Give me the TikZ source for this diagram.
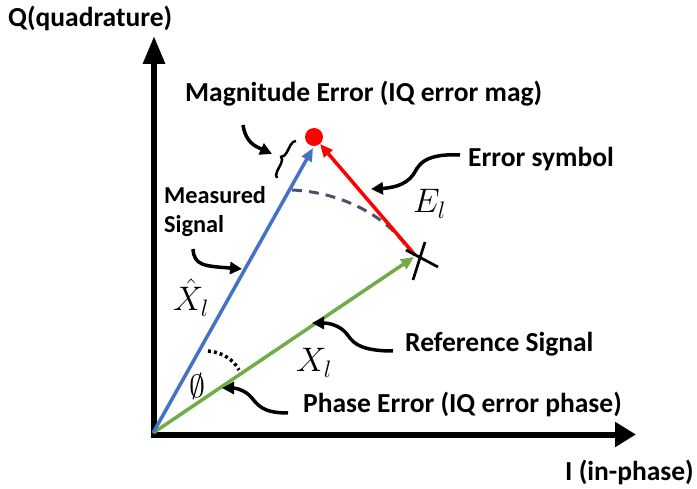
\RequirePackage{fix-cm}
\documentclass[tikz,border=0pt]{standalone}
\usepackage{fontspec}
\setmainfont{Carlito}
\usetikzlibrary{arrows.meta,decorations.pathreplacing}
\definecolor{qblue}{HTML}{4472C4}
\definecolor{qgreen}{HTML}{70AD47}
\definecolor{qslate}{HTML}{44546A}
\begin{document}
\begin{tikzpicture}[x=1pt,y=-1pt,
  lbl/.style={font=\fontsize{27.5}{31}\selectfont\bfseries, anchor=base west, inner sep=0pt},
  slbl/.style={font=\fontsize{24.3}{28}\selectfont\bfseries, anchor=base west, inner sep=0pt},
  mth/.style={font=\fontsize{34}{40}\selectfont, anchor=base west, inner sep=0pt},
  pointer/.style={line width=3.5pt, -{Triangle[length=12pt,width=12pt]}},
  vec/.style={line width=3.5pt, -{Triangle[length=13pt,width=11pt]}},
  axis/.style={line width=6pt, line join=miter}]
\useasboundingbox (0,0) rectangle (697,489);
% axes
\coordinate (corner) at (154,434.5);
\coordinate (Qtip) at (154,36);
\coordinate (Itip) at (636,434.5);
\draw[axis, {Triangle[length=28pt,width=21pt]}-{Triangle[length=21pt,width=24pt]}] (Qtip) -- (corner) -- (Itip);
% labels
\node[lbl] (qlab) at (8,27) {Q(quadrature)};
\node[lbl] (maglab) at (185,102) {Magnitude Error (IQ error mag)};
\node[lbl] (errlab) at (468,167) {Error symbol};
\node[slbl] (measlab) at (164,204) {Measured};
\node[slbl] (siglab) at (164,233) {Signal};
\node[lbl] (reflab) at (405,352) {Reference Signal};
\node[lbl] (phlab) at (303,413) {Phase Error (IQ error phase)};
\node[lbl] (ilab) at (565,480) {I (in-phase)};
% math labels
\node[mth] (elab) at (413,213) {$E_l$};
\node[mth] (xhlab) at (173,311) {$\hat{X}_l$};
\node[mth] (xlab) at (296,372) {$X_l$};
\node[font=\fontsize{32}{36}\selectfont, inner sep=0pt] (philab) at (197,386) {$\emptyset$};
% vectors
\coordinate (O) at (153,433);
\coordinate (M) at (313,148);
\coordinate (R) at (414,257);
\coordinate (Rs) at (415,255);
\node[circle, fill=red, minimum size=18pt, inner sep=0pt] (dot) at (314,137) {};
\draw[qslate, line width=3pt, dash pattern=on 10pt off 7pt] (292,190) .. controls (340,192) and (385,215) .. (407,247);
\draw[vec, qgreen] (O) -- (R);
\draw[vec, qblue] (O) -- (M);
\draw[vec, red] (Rs) -- (dot);
% cross
\coordinate (c1a) at (425,242);
\coordinate (c1b) at (413,280);
\coordinate (c2a) at (406,250);
\coordinate (c2b) at (438,267);
\draw[line width=2.7pt] (c1a) -- (c1b);
\draw[line width=2.7pt] (c2a) -- (c2b);
% phase arc
\coordinate (pa1) at (208,351);
\coordinate (pa2) at (239,370);
\draw[line width=3.5pt, dash pattern=on 3pt off 3pt] (pa1) .. controls (222,352) and (234,360) .. (pa2);
% brace
\coordinate (b1) at (277,178);
\coordinate (b2) at (296,141);
\draw[decorate, decoration={brace, amplitude=6pt}, line width=2.5pt] (b1) -- (b2);
% pointers
\coordinate (p1s) at (193,249);
\coordinate (p1e) at (242,269);
\draw[pointer] (p1s) .. controls (194,266) and (205,266) .. (p1e);
\coordinate (p2s) at (243,125);
\coordinate (p2e) at (272,154);
\draw[pointer] (p2s) .. controls (246,143) and (255,146) .. (p2e);
\coordinate (p3s) at (460,155);
\coordinate (p3e) at (371,189);
\draw[pointer] (p3s) .. controls (420,153) and (418,168) .. (413,175) .. controls (405,186) and (390,188) .. (p3e);
\coordinate (p4s) at (393,351);
\coordinate (p4e) at (312,323);
\draw[pointer] (p4s) .. controls (355,351) and (352,340) .. (346,333) .. controls (340,326) and (330,323) .. (p4e);
\coordinate (p5s) at (288,413);
\coordinate (p5e) at (222,388);
\draw[pointer] (p5s) .. controls (262,413) and (258,405) .. (251,397) .. controls (245,390) and (235,388) .. (p5e);
\end{tikzpicture}
\end{document}
